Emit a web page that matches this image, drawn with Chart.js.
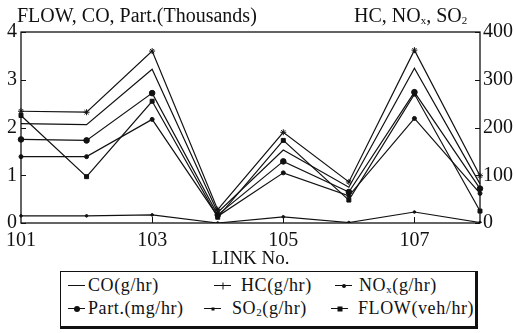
<!DOCTYPE html>
<html>
<head>
<meta charset="utf-8">
<script src="https://cdn.jsdelivr.net/npm/chart.js@4.4.1/dist/chart.umd.min.js"></script>
<style>
html, body { margin: 0; padding: 0; background: #fff; }
#wrap { position: relative; width: 516px; height: 333px; overflow: hidden; font-family: "Liberation Serif", serif; color: #111; }
#chart-box { position: absolute; left: 0; top: 0; width: 516px; height: 270px; }
.axis-title { position: absolute; top: 3px; font-size: 20px; line-height: 24px; white-space: nowrap; }
sub { font-size: 11px; vertical-align: -2px; line-height: 0; }
#legend { position: absolute; left: 60px; top: 271px; width: 414px; height: 54px; border: 1px solid #111; border-right-width: 3px; border-bottom-width: 3px; }
.item { position: absolute; font-size: 18px; line-height: 22px; white-space: nowrap; letter-spacing: 0.6px; }
.mk { position: absolute; width: 17px; height: 1px; background: #111; }
.mk i { position: absolute; left: 50%; top: 50%; background: #111; transform: translate(-50%, -50%); }
</style>
</head>
<body>
<div id="wrap">
  <div id="chart-box"><canvas id="mainChart" width="516" height="270"></canvas></div>
  <div class="axis-title" style="left:17px;">FLOW, CO, Part.(Thousands)</div>
  <div class="axis-title" style="left:354px;">HC, NO<sub>x</sub>, SO<sub>2</sub></div>
  <div id="legend">
    <div class="mk" style="left:7px;top:13px;"></div>
    <div class="item" style="left:27px;top:2px;">CO(g/hr)</div>
    <div class="mk" style="left:153px;top:13px;"><i style="width:1px;height:7px;"></i></div>
    <div class="item" style="left:180px;top:2px;">HC(g/hr)</div>
    <div class="mk" style="left:274px;top:13px;"><i style="width:4px;height:4px;border-radius:50%;"></i></div>
    <div class="item" style="left:298px;top:2px;">NO<sub>x</sub>(g/hr)</div>
    <div class="mk" style="left:7px;top:36px;"><i style="width:6px;height:6px;border-radius:50%;"></i></div>
    <div class="item" style="left:27px;top:25px;">Part.(mg/hr)</div>
    <div class="mk" style="left:143px;top:36px;"><i style="width:3px;height:3px;"></i></div>
    <div class="item" style="left:171px;top:25px;">SO<sub>2</sub>(g/hr)</div>
    <div class="mk" style="left:270px;top:36px;"><i style="width:5px;height:5px;"></i></div>
    <div class="item" style="left:297px;top:25px;">FLOW(veh/hr)</div>
  </div>
</div>
<script>
// values
const links = ['101', '102', '103', '104', '105', '106', '107', '108'];
const coValues = [2080, 2060, 3220, 220, 1530, 750, 3240, 820];      // g/hr, left axis
const partValues = [1750, 1730, 2720, 170, 1290, 650, 2740, 720];    // mg/hr, left axis
const flowValues = [2250, 970, 2550, 120, 1730, 480, 2700, 250];     // veh/hr, left axis
const hcValues = [234, 232, 360, 28, 190, 86, 362, 99];              // g/hr, right axis
const noxValues = [139, 139, 217, 14, 105, 57, 219, 62];             // g/hr, right axis
const so2Values = [15, 15, 17, 0, 13, 1, 23, 1];                     // g/hr, right axis

const ink = '#111';
const fontFamily = '"Liberation Serif", serif';

function series(label, data, axis, style, radius) {
    return {
        label: label,
        data: data,
        yAxisID: axis,
        borderColor: ink,
        backgroundColor: ink,
        borderWidth: 1.2,
        tension: 0,
        pointStyle: style,
        pointRadius: radius,
        pointBorderWidth: 1,
        pointBorderColor: ink,
        pointBackgroundColor: ink
    };
}

// box round the plot and short inward tick marks
const framePlugin = {
    id: 'frame',
    afterDraw(chart) {
        const ctx = chart.ctx;
        const a = chart.chartArea;
        const s = chart.scales;
        ctx.save();
        ctx.strokeStyle = ink;
        ctx.lineWidth = 1.3;
        ctx.strokeRect(a.left, a.top, a.right - a.left, a.bottom - a.top);
        ctx.lineWidth = 1;
        ctx.beginPath();
        s.y.ticks.forEach(t => {
            const y = Math.round(s.y.getPixelForValue(t.value)) + 0.5;
            ctx.moveTo(a.left, y); ctx.lineTo(a.left + 5, y);
        });
        s.y2.ticks.forEach(t => {
            const y = Math.round(s.y2.getPixelForValue(t.value)) + 0.5;
            ctx.moveTo(a.right, y); ctx.lineTo(a.right - 5, y);
        });
        links.forEach((l, i) => {
            if (i % 2 === 0 && i > 0) {
                const x = Math.round(s.x.getPixelForValue(i)) + 0.5;
                ctx.moveTo(x, a.bottom); ctx.lineTo(x, a.bottom - 6);
            }
        });
        ctx.stroke();
        ctx.restore();
    }
};

const ctx = document.getElementById('mainChart').getContext('2d');
new Chart(ctx, {
    type: 'line',
    data: {
        labels: links,
        datasets: [
            series('CO(g/hr)', coValues, 'y', 'circle', 0),
            series('HC(g/hr)', hcValues, 'y2', 'star', 3),
            series('NOx(g/hr)', noxValues, 'y2', 'circle', 2),
            series('Part.(mg/hr)', partValues, 'y', 'circle', 2.8),
            series('SO2(g/hr)', so2Values, 'y2', 'circle', 1.3),
            series('FLOW(veh/hr)', flowValues, 'y', 'rect', 2.8)
        ]
    },
    options: {
        responsive: false,
        animation: false,
        layout: { autoPadding: false, padding: { top: 32, left: 0, right: 0, bottom: 0 } },
        plugins: {
            legend: { display: false },
            tooltip: { enabled: false }
        },
        scales: {
            x: {
                grid: { display: false, drawTicks: false },
                border: { display: false },
                ticks: {
                    autoSkip: false,
                    maxRotation: 0,
                    padding: 6,
                    color: ink,
                    font: { family: fontFamily, size: 20 },
                    callback: (v, i) => (i % 2 === 0 ? links[i] : '')
                },
                title: {
                    display: true,
                    text: 'LINK No.',
                    color: ink,
                    font: { family: fontFamily, size: 19 },
                    padding: { top: 0, bottom: 0 }
                },
                afterFit: scale => { scale.height = 47; }
            },
            y: {
                position: 'left',
                min: 0,
                max: 4000,
                grid: { display: false, drawTicks: false },
                border: { display: false },
                ticks: {
                    stepSize: 1000,
                    padding: 4,
                    color: ink,
                    font: { family: fontFamily, size: 20 },
                    callback: v => v / 1000
                },
                afterFit: scale => { scale.width = 15; }
            },
            y2: {
                position: 'right',
                min: 0,
                max: 400,
                grid: { display: false, drawTicks: false },
                border: { display: false },
                ticks: {
                    stepSize: 100,
                    padding: 3,
                    color: ink,
                    font: { family: fontFamily, size: 20 }
                },
                afterFit: scale => { scale.width = 36; }
            }
        }
    },
    plugins: [framePlugin]
});
</script>
</body>
</html>
